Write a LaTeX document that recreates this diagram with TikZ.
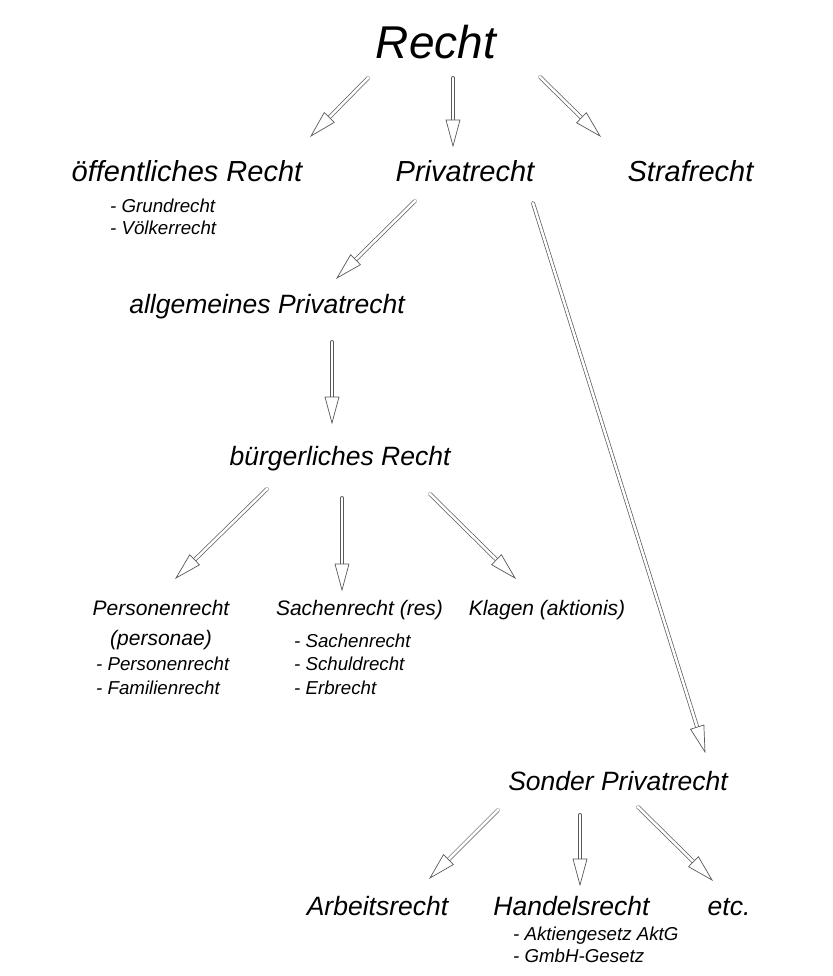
\documentclass[tikz,border=0pt]{standalone}
\usepackage{fontspec}
\setmainfont{Liberation Sans}
\usepackage{xcolor}
\usetikzlibrary{decorations.markings}

\definecolor{pfeilgrau}{gray}{0.35}

\begin{document}
\begin{tikzpicture}[
    x=1pt, y=-1pt,
    every node/.style={inner sep=0pt, anchor=base},
    titel/.style={font=\fontsize{46}{50}\selectfont\itshape},
    haupt/.style={font=\fontsize{29}{32}\selectfont\itshape},
    zweig/.style={font=\fontsize{26.5}{30}\selectfont\itshape},
    gebiet/.style={font=\fontsize{21}{24}\selectfont\itshape},
    punkt/.style={font=\fontsize{18.7}{22}\selectfont\itshape, anchor=base west},
    pfeil/.style={draw=pfeilgrau, line width=.7pt, double=white, double distance=2.5pt,
        line cap=round, shorten >=10pt, postaction={decorate},
        decoration={markings, mark=at position 1 with {\draw[pfeilgrau, fill=white, line width=.7pt,
            shorten >=0pt, line join=miter] (0pt,0pt) -- (-26pt,7pt) -- (-26pt,-7pt) -- cycle;}}}
]

\fill[white] (0,0) rectangle (832,976);

% Recht and its three branches
\node[titel] (recht) at (436,59) {Recht};
\node[haupt] (oeff) at (187,182) {öffentliches Recht};
\node[haupt] (privat) at (465,182) {Privatrecht};
\node[haupt] (straf) at (690.5,182) {Strafrecht};
\node[punkt] (grund) at (110,213) {- Grundrecht};
\node[punkt] (voelker) at (110,235) {- Völkerrecht};

% allgemeines Privatrecht
\node[zweig] (allg) at (267,313) {allgemeines Privatrecht};
\node[zweig] (buerg) at (340,465) {bürgerliches Recht};
\node[gebiet] (person) at (161,615) {Personenrecht};
\node[gebiet] (personae) at (161,645) {(personae)};
\node[punkt] (pers) at (96,670) {- Personenrecht};
\node[punkt] (fam) at (96,694) {- Familienrecht};
\node[gebiet] (sachen) at (359.5,615) {Sachenrecht (res)};
\node[punkt] (sach) at (294,647) {- Sachenrecht};
\node[punkt] (schuld) at (294,670) {- Schuldrecht};
\node[punkt] (erb) at (294,694) {- Erbrecht};
\node[gebiet] (klagen) at (547,615) {Klagen (aktionis)};

% Sonder Privatrecht
\node[zweig] (sonder) at (618,790) {Sonder Privatrecht};
\node[zweig] (arbeit) at (377.5,915) {Arbeitsrecht};
\node[zweig] (handel) at (571.5,915) {Handelsrecht};
\node[zweig] (etc) at (729,915) {etc.};
\node[punkt] (aktg) at (513,940) {- Aktiengesetz AktG};
\node[punkt] (gmbh) at (513,962) {- GmbH-Gesetz};

% Arrows
\draw[pfeil] ([shift={(-68,19)}]recht.base) -- ([shift={(124,-46)}]oeff.base);
\draw[pfeil] ([shift={(17,19)}]recht.base) -- ([shift={(-12,-36)}]privat.base);
\draw[pfeil] ([shift={(104,18)}]recht.base) -- ([shift={(-90.5,-46)}]straf.base);
\draw[pfeil] ([shift={(-50,19)}]privat.base) -- ([shift={(70,-35)}]allg.base);
\draw[pfeil] ([shift={(68,21)}]privat.base) -- ([shift={(87,-38)}]sonder.base);
\draw[pfeil] ([shift={(65,29)}]allg.base) -- ([shift={(-8,-42)}]buerg.base);
\draw[pfeil] ([shift={(-73,24)}]buerg.base) -- ([shift={(15,-37)}]person.base);
\draw[pfeil] ([shift={(2,33)}]buerg.base) -- ([shift={(-17.5,-25)}]sachen.base);
\draw[pfeil] ([shift={(90,29)}]buerg.base) -- ([shift={(-32,-37)}]klagen.base);
\draw[pfeil] ([shift={(-120,20)}]sonder.base) -- ([shift={(52.5,-37)}]arbeit.base);
\draw[pfeil] ([shift={(-38,25)}]sonder.base) -- ([shift={(8.5,-30)}]handel.base);
\draw[pfeil] ([shift={(20,17)}]sonder.base) -- ([shift={(-17,-35)}]etc.base);

\end{tikzpicture}
\end{document}
